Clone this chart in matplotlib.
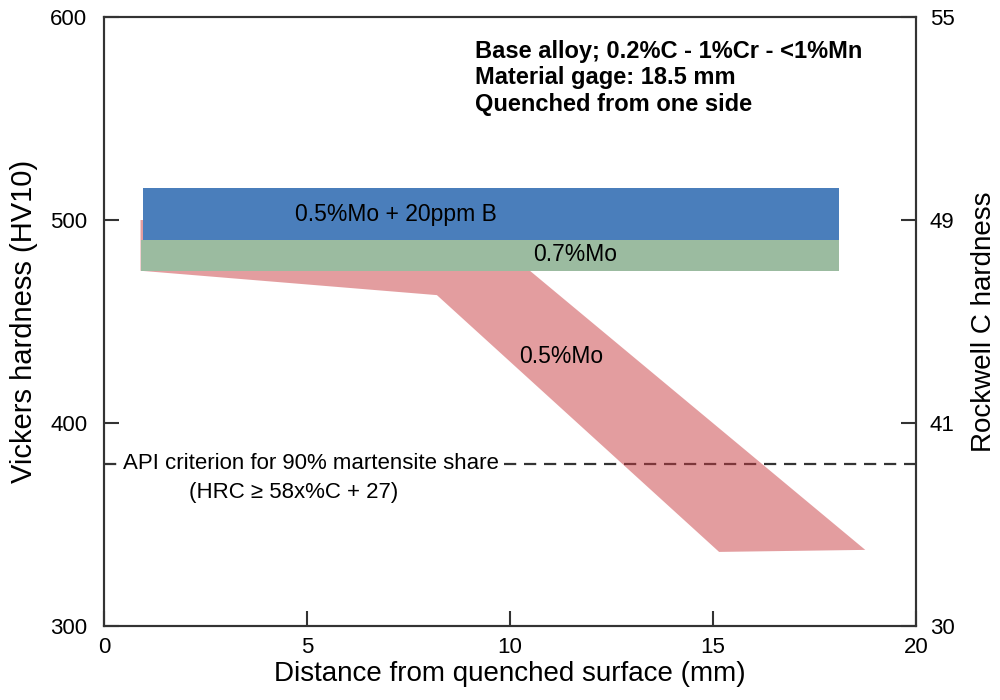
import matplotlib.pyplot as plt
from matplotlib.patches import Polygon

plt.rcParams['font.family'] = ['Liberation Sans', 'DejaVu Sans']

# hardness bands (distance mm, Vickers HV10)
b_mo_x = [0.95, 18.1]
b_mo_lo = [490, 490]
b_mo_hi = [516, 516]

mo07_x = [0.9, 18.1]
mo07_lo = [475, 475]
mo07_hi = [490, 490]

# 0.5%Mo scatter band, outline going round the polygon
mo05_x = [0.9, 9.0, 10.55, 18.75, 15.15, 8.2, 0.9]
mo05_y = [500, 500, 474, 337.5, 336.5, 463, 475]

api_hv = 380
left_ticks = [300, 400, 500, 600]
hrc_labels = ['30', '41', '49', '55']
x_ticks = [0, 5, 10, 15, 20]

fig = plt.figure(figsize=(10, 7), dpi=100)
ax = fig.add_axes([0.104, 0.1057, 0.812, 0.87])

# API criterion line sits under the red band
ax.plot([0, 20], [api_hv, api_hv], ls=(0, (5.5, 3.5)), color='#333333', lw=1.6, zorder=1)
ax.text(0.47, api_hv, 'API criterion for 90% martensite share', fontsize=16,
        va='center', ha='left', zorder=2,
        bbox=dict(facecolor='white', edgecolor='none', pad=0.5))
ax.text(4.66, api_hv - 14, '(HRC \u2265 58x%C + 27)', fontsize=16, va='center', ha='center')

red = Polygon(list(zip(mo05_x, mo05_y)), closed=True, facecolor='#c83c41',
              alpha=0.5, edgecolor='none', zorder=3)
ax.add_patch(red)
ax.fill_between(mo07_x, mo07_lo, mo07_hi, color='#9bbba0', lw=0, zorder=4)
ax.fill_between(b_mo_x, b_mo_lo, b_mo_hi, color='#4a7ebb', lw=0, zorder=5)

ax.text(7.2, 502.5, '0.5%Mo + 20ppm B', fontsize=16.5, ha='center', va='center', zorder=6)
ax.text(11.6, 483, '0.7%Mo', fontsize=16.5, ha='center', va='center', zorder=6)
ax.text(11.25, 433, '0.5%Mo', fontsize=16.5, ha='center', va='center', zorder=6)

ax.text(9.14, 570, 'Base alloy; 0.2%C - 1%Cr - <1%Mn\nMaterial gage: 18.5 mm\nQuenched from one side',
        fontsize=17, fontweight='bold', ha='left', va='center', linespacing=1.2)

ax.set_xlim(0, 20)
ax.set_ylim(300, 600)
ax.set_xticks(x_ticks)
ax.set_yticks(left_ticks)
ax.tick_params(direction='in', length=11, width=1.5, labelsize=16, color='#333333', pad=12)
ax.tick_params(axis='x', pad=8)
ax.set_xlabel('Distance from quenched surface (mm)', fontsize=20, labelpad=2)
ax.set_ylabel('Vickers hardness (HV10)', fontsize=21, labelpad=9)

ax2 = ax.twinx()
ax2.set_ylim(300, 600)
ax2.set_yticks(left_ticks)
ax2.set_yticklabels(hrc_labels)
ax2.tick_params(direction='in', length=11, width=1.5, labelsize=16, color='#333333', pad=10)
ax2.set_ylabel('Rockwell C hardness', fontsize=20, labelpad=12)

for a in (ax, ax2):
    for s in a.spines.values():
        s.set_linewidth(1.5)
        s.set_color('#333333')

fig.savefig('out.png', dpi=100)
